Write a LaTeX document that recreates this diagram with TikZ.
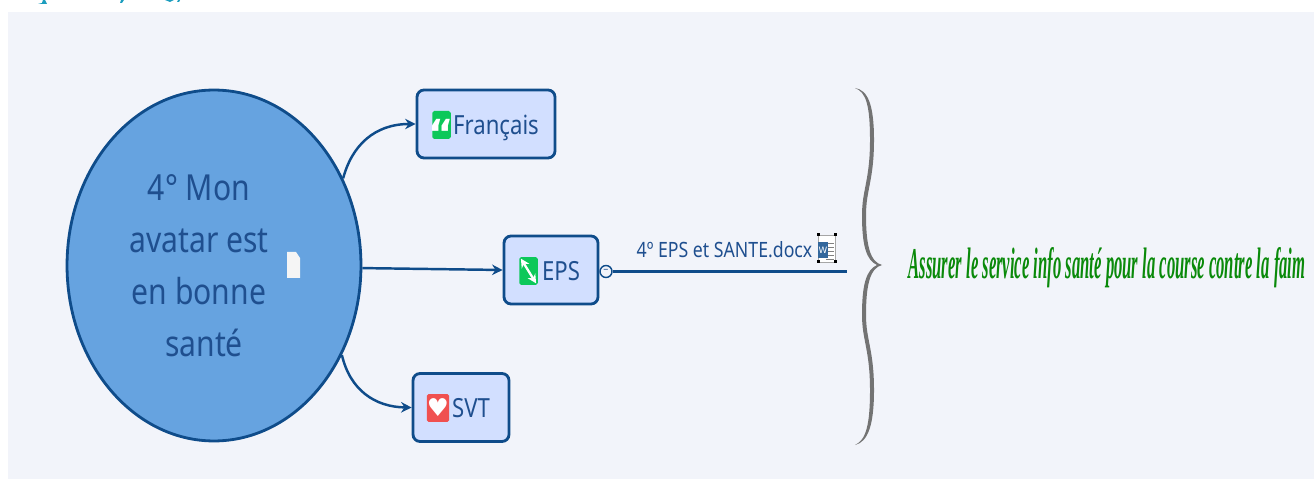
\documentclass[tikz,border=0pt]{standalone}
\usepackage{fontspec}
\usepackage{xcolor}
\setmainfont[FakeStretch=0.84]{Noto Sans}
\newfontfamily\symfont{DejaVu Sans}
\newfontfamily\goalfont{Liberation Serif}
\usetikzlibrary{shapes.geometric,arrows.meta}
\definecolor{pagebg}{HTML}{F2F4FA}
\definecolor{linkblue}{HTML}{0F4C8A}
\definecolor{rootblue}{HTML}{66A3E0}
\definecolor{topicblue}{HTML}{D2DFFF}
\definecolor{labelblue}{HTML}{1F4F8F}
\definecolor{iconred}{HTML}{F05050}
\definecolor{icongreen}{HTML}{0CC85A}
\definecolor{notegreen}{HTML}{0A8A0A}
\definecolor{headteal}{HTML}{1C9DBE}
\tikzset{
  topic/.style={draw=linkblue,line width=1.6pt,fill=topicblue,rounded corners=4pt,minimum height=1.36cm,text=labelblue,font=\fontsize{15}{17}\selectfont,inner sep=0pt,text height=11.9pt,text depth=0pt},
  link/.style={draw=linkblue,line width=1.4pt,-{Stealth[length=6pt,width=6pt]}},
  icon/.style={rounded corners=1pt,minimum width=0.37cm,minimum height=0.56cm,inner sep=0pt,text=white}
}
\begin{document}
\begin{tikzpicture}[x=0.02cm,y=-0.02cm]
\useasboundingbox (0,0) rectangle (1314,479);
\fill[pagebg] (8,12) rectangle (1314,479);
\fill[headteal] (38,4) -- (47,4) -- (45,0) -- (43,0) -- (42,3) -- cycle;
\fill[headteal] (120,3) -- (122,3) -- (124,0) -- (121,0) -- cycle;
\fill[headteal] (165,0) -- (170,2) -- (174,0) -- cycle;
\fill[headteal] (177,2) -- (179,2) -- (180,0) -- (178,0) -- cycle;

\node[ellipse,draw=linkblue,line width=1.6pt,fill=rootblue,minimum width=5.88cm,minimum height=7.02cm,inner sep=0pt] (root) at (214,265.5) {};
\node[align=center,text=labelblue,inner sep=0pt,font=\fontsize{20.4}{29.6}\selectfont] (roottext) at (199,265.5) {4° Mon\\avatar est\\en bonne\\\hspace*{0.2cm}santé};
\fill[white!92!gray] (287,252) -- (296,252) -- (300,258) -- (300,278) -- (287,278) -- cycle;

\node[topic,minimum width=2.76cm] (francais) at (486,124) {\hspace*{0.4cm}Français};
\node[topic,minimum width=1.88cm] (eps) at (551,270) {\hspace*{0.4cm}EPS};
\node[topic,minimum width=1.92cm] (svt) at (461,407.5) {\hspace*{0.4cm}SVT};

\node[icon,fill=icongreen,font=\symfont\bfseries\fontsize{22}{22}\selectfont] (iconquote) at (441.5,125) {\smash{\makebox[0pt]{\raisebox{-4.6mm}{“}}}};
\node[icon,fill=icongreen] (iconarrow) at (528.5,271) {};
\draw[white,line width=1.3pt,{Stealth[length=5pt,width=5pt]}-{Stealth[length=5pt,width=5pt]}] ([shift={(2,2)}]iconarrow.north west) -- ([shift={(-2,-2)}]iconarrow.south east);
\node[icon,fill=iconred,font=\symfont\fontsize{14}{14}\selectfont] (iconheart) at (438,408) {♥};

\node[circle,draw=linkblue,line width=0.8pt,fill=pagebg,minimum size=0.24cm,inner sep=0pt,text=labelblue,font=\fontsize{6}{6}\selectfont] (collapse) at (606,271.5) {−};
\coordinate (branchend) at (847,271.5);
\node[text=labelblue,font=\fontsize{12}{12}\selectfont,inner sep=0pt] (docname) at (724.5,250) {4º EPS et SANTE.docx};

\node[draw=gray!70,fill=white,minimum width=0.34cm,minimum height=0.54cm,inner sep=0pt] (wordpage) at (827,249) {};
\foreach \y in {243,247,251,255,259} \draw[gray,line width=0.4pt] (826,\y) -- (834,\y);
\node[fill=linkblue!85,text=white,minimum width=0.2cm,minimum height=0.34cm,inner sep=0pt,font=\symfont\fontsize{5}{5}\selectfont] (wordmark) at (823,250) {W};
\foreach \x/\y in {818/235,835/235,818/262,835/262} \fill[black] (\x-1.5,\y-1.5) rectangle (\x+1.5,\y+1.5);

\draw[link] (root.34) .. controls (352,145) and (375,124) .. (francais.west);
\draw[link] (root.-1) -- (eps.west);
\draw[link] (root.-35) .. controls (350,390) and (375,407) .. (svt.west);
\draw[draw=linkblue,line width=1.7pt] (collapse.east) -- (branchend);

\fill[gray!90!black] (855,88) .. controls (868,90) and (874,105) .. (874,140)
  .. controls (874,180) and (866,190) .. (866,215) .. controls (866,245) and (870,262) .. (882,265)
  .. controls (870,268) and (866,285) .. (866,315) .. controls (866,340) and (874,350) .. (874,390)
  .. controls (874,425) and (868,442) .. (855,445) .. controls (866,440) and (870,425) .. (870,390)
  .. controls (870,350) and (862,340) .. (862,315) .. controls (862,285) and (866,270) .. (877,265)
  .. controls (866,260) and (862,245) .. (862,215) .. controls (862,190) and (870,180) .. (870,140)
  .. controls (870,105) and (866,92) .. (855,88) -- cycle;

\node[text=notegreen,inner sep=0pt] (goal) at (1107,268) {\resizebox{7.94cm}{0.62cm}{\goalfont\bfseries\itshape Assurer le service info santé pour la course contre la faim}};
\end{tikzpicture}
\end{document}
